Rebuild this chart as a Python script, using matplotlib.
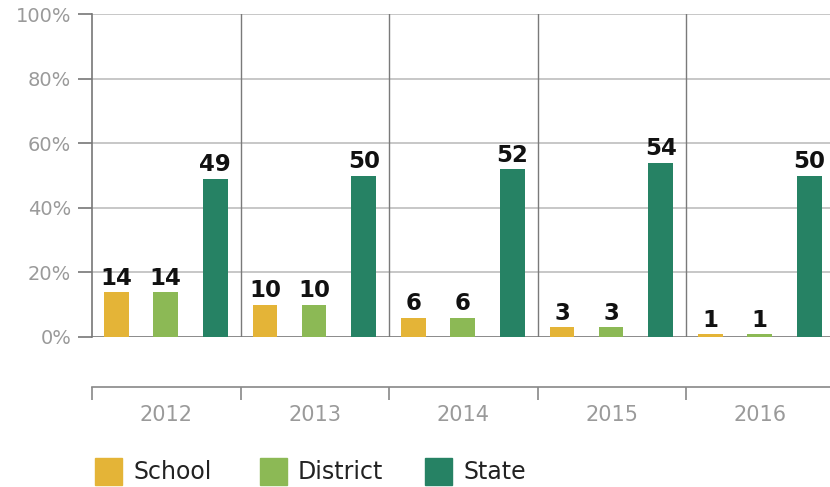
import matplotlib
matplotlib.use("Agg")
import matplotlib.pyplot as plt
from matplotlib.patches import Rectangle
import numpy as np

years = ["2012", "2013", "2014", "2015", "2016"]
series_names = ["School", "District", "State"]
school = [14, 10, 6, 3, 1]
district = [14, 10, 6, 3, 1]
state = [49, 50, 52, 54, 50]
yticks = [0, 20, 40, 60, 80, 100]
colors = ["#E4B437", "#8CB955", "#268264"]

W, H = 830, 487
fig = plt.figure(figsize=(W / 100, H / 100), dpi=100)
plt.rcParams['font.family'] = ['DejaVu Sans']

left = 92 / W
right_px = 830
ax = fig.add_axes([left, 1 - 337 / H, (right_px - 92) / W, (337 - 14) / H])
n = len(years)
group_px = 148.5
xlim = (-0.5, -0.5 + (right_px - 92) / group_px)

x = np.arange(n)
offsets = [-0.335, -0.005, 0.33]
width = 0.168
data = [school, district, state]
for vals, off, c in zip(data, offsets, colors):
    bars = ax.bar(x + off, vals, width=width, color=c, zorder=3)
    for b, v in zip(bars, vals):
        ax.text(b.get_x() + b.get_width() / 2, v + 0.7, str(v), ha="center", va="bottom",
                fontsize=16.5, fontweight="bold", color="#111111", zorder=4)

ax.set_yticks(yticks)
ax.set_yticklabels([f"{t}%" for t in yticks], fontsize=14, color="#9a9a9a")
ax.tick_params(axis="y", length=10, color="#777777", width=1.2, pad=5)
ax.set_xticks([])
for yv in yticks:
    ax.axhline(yv, color="#bdbdbd" if yv else "#777777", lw=1.2, zorder=1)
for b in np.arange(0.5, n - 0.5, 1.0):
    ax.axvline(b, color="#7a7a7a", lw=1.0, zorder=1)
for s in ["top", "right", "bottom"]:
    ax.spines[s].set_visible(False)
ax.spines["left"].set_color("#777777")
ax.spines["left"].set_linewidth(1.2)
ax.set_xlim(*xlim)
ax.set_ylim(0, 100)

# category axis below
ax2 = fig.add_axes([left, 1 - 387 / H, (right_px - 92) / W, 0.0001])
ax2.set_yticks([])
for s in ["top", "right", "left"]:
    ax2.spines[s].set_visible(False)
ax2.spines["bottom"].set_color("#888888")
ax2.spines["bottom"].set_linewidth(1.2)
ax2.set_xticks(np.arange(-0.5, n - 0.5, 1.0))
ax2.set_xticklabels([])
ax2.tick_params(axis="x", which="major", length=9, color="#888888", width=1.2)
ax2.set_xticks(x, minor=True)
ax2.set_xticklabels(years, minor=True, fontsize=15, color="#9a9a9a")
ax2.tick_params(axis="x", which="minor", length=0, pad=13)
ax2.patch.set_visible(False)
ax2.set_xlim(*xlim)

# legend
leg_x = [95, 260, 425]
for name, c, lx in zip(series_names, colors, leg_x):
    fig.patches.append(Rectangle((lx / W, 1 - 485 / H), 27 / W, 27 / H,
                                 transform=fig.transFigure, color=c))
    fig.text((lx + 38) / W, 1 - 472 / H, name, fontsize=17, color="#222222",
             va="center", ha="left")

fig.savefig("out.png", dpi=100)
